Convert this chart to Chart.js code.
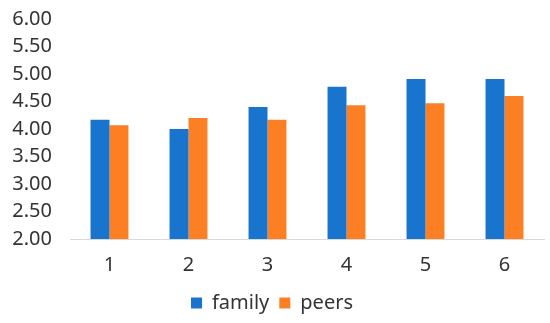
<!DOCTYPE html>
<html>
<head>
<meta charset="utf-8">
<script src="https://cdn.jsdelivr.net/npm/chart.js@4"></script>
<style>
  html, body { margin: 0; padding: 0; background: #fff; }
  #wrap { width: 550px; height: 323px; }
</style>
</head>
<body>
<div id="wrap"><canvas id="myChart" width="550" height="323"></canvas></div>
<script>
const categories = ["1", "2", "3", "4", "5", "6"];
const familyValues = [4.17, 4.00, 4.40, 4.77, 4.91, 4.91];
const peersValues = [4.07, 4.20, 4.17, 4.43, 4.47, 4.60];
const yMin = 2;
const yMax = 6;
const yStep = 0.5;

const font = "'Noto Sans', sans-serif";
const textColor = "#333333";

new Chart(document.getElementById("myChart"), {
  type: "bar",
  data: {
    labels: categories,
    datasets: [
      {
        label: "family",
        data: familyValues,
        backgroundColor: "#1874cd",
        categoryPercentage: 0.48,
        barPercentage: 1,
      },
      {
        label: "peers",
        data: peersValues,
        backgroundColor: "#fd7f23",
        categoryPercentage: 0.48,
        barPercentage: 1,
      },
    ],
  },
  options: {
    responsive: false,
    animation: false,
    layout: { padding: { top: 19, right: 6, left: 0, bottom: 0 } },
    plugins: {
      tooltip: { enabled: false },
      legend: {
        position: "bottom",
        labels: {
          boxWidth: 11,
          boxHeight: 11,
          padding: 10,
          color: textColor,
          font: { family: font, size: 20 },
        },
      },
    },
    scales: {
      x: {
        grid: { display: false },
        border: { color: "#d9d9d9", width: 1 },
        ticks: {
          color: textColor,
          padding: 6,
          font: { family: font, size: 20 },
        },
      },
      y: {
        min: yMin,
        max: yMax,
        grid: { display: false },
        border: { display: false },
        afterFit: (scale) => {
          scale.width = 70;
          scale.paddingTop = 0;
          scale.paddingBottom = 0;
        },
        ticks: {
          stepSize: yStep,
          autoSkip: false,
          color: textColor,
          padding: 10,
          font: { family: font, size: 20 },
          callback: (v) => v.toFixed(2),
        },
      },
    },
  },
});
</script>
</body>
</html>
